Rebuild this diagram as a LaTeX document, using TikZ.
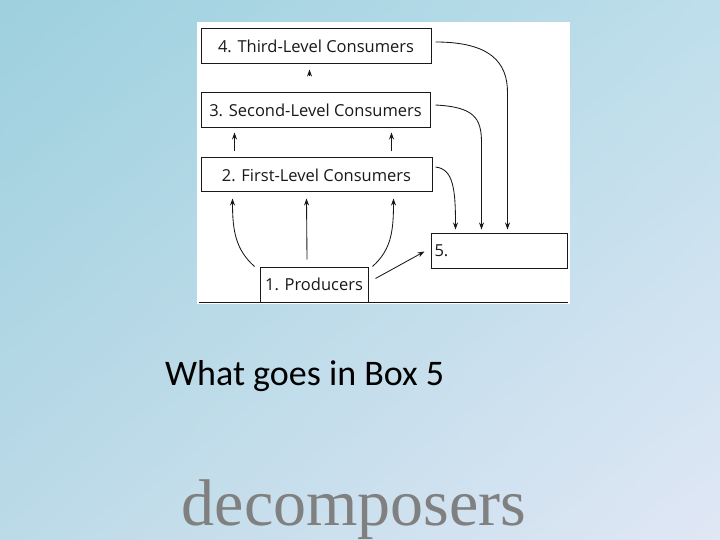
\documentclass[tikz,border=0pt]{standalone}
\usepackage{fontspec}
\setmainfont{Liberation Serif}
\newfontfamily\diafont{Open Sans}
\newfontfamily\calfont{Carlito}
\usetikzlibrary{calc,arrows.meta,shadings}
\definecolor{bgtl}{RGB}{157,208,222}
\definecolor{bgtr}{RGB}{190,222,235}
\definecolor{bgbl}{RGB}{188,218,232}
\definecolor{bgbr}{RGB}{224,231,245}
\definecolor{ink}{RGB}{25,25,25}
\definecolor{answer}{RGB}{128,128,128}
\tikzset{
  box/.style={draw=ink, line width=1pt, fill=white, inner sep=0pt, font=\diafont\fontsize{16.5}{18}\selectfont, text=ink},
  arr/.style={draw=ink, line width=0.85pt, -{Stealth[length=7pt,width=5pt]}},
}
\begin{document}
\begin{tikzpicture}[x=1pt,y=-1pt]
\shade[upper left=bgtl, upper right=bgtr, lower left=bgbl, lower right=bgbr] (0,0) rectangle (720,540);
\useasboundingbox (0,0) rectangle (720,540);
% white panel
\fill[white] (197,22) rectangle (570,304);
\draw[ink, line width=1pt] (199,302) -- (568,302);
% boxes
\node[box, minimum width=230pt, minimum height=35pt] (b4) at (316,46.5) {4. Third-Level Consumers};
\node[box, minimum width=229pt, minimum height=35pt] (b3) at (315.5,110.5) {3. Second-Level Consumers};
\node[box, minimum width=231pt, minimum height=34pt] (b2) at (316.5,175) {2. First-Level Consumers};
\node[box, minimum width=108pt, minimum height=35pt] (b1) at (314,284.5) {1. Producers};
\node[box, minimum width=136pt, minimum height=35pt, text width=129pt, align=left] (b5) at (499,250.5) {5.};
% arrows between levels
\draw[arr] ($(b4.south west)+(109,12)$) -- ($(b4.south west)+(109,5)$);
\draw[arr] ($(b2.north west)+(34,-6)$) -- ($(b3.south west)+(34,4)$);
\draw[arr] ($(b2.north west)+(191,-6)$) -- ($(b3.south west)+(191,4)$);
\draw[arr] ($(b1.north west)+(-5,0)$) .. controls +(-19,-17) and +(0,32) .. ($(b2.south west)+(32,6)$);
\draw[arr] ($(b1.north)+(-7,-7)$) -- ($(b2.south west)+(106,6)$);
\draw[arr] ($(b1.north east)+(4,0)$) .. controls +(19,-17) and +(0,32) .. ($(b2.south west)+(193,6)$);
% arrows to box 5
\draw[arr] ($(b1.east)+(7,-6)$) -- ($(b5.west)+(-6,1)$);
\draw[arr] ($(b2.east)+(3,-8)$) .. controls +(18,2) and +(0,-40) .. ($(b5.north west)+(25,-3)$);
\draw[arr] ($(b3.east)+(5,-5.5)$) .. controls +(38,2) and +(0,-25) .. ($(b5.north west)+(51,-90)$) -- ($(b5.north west)+(51,-3)$);
\draw[arr] ($(b4.east)+(4,-4.5)$) .. controls +(55,0) and +(0,-30) .. ($(b5.north west)+(77,-140)$) -- ($(b5.north west)+(77,-3)$);
% texts
\node[font=\calfont\fontsize{36}{40}\selectfont, text=black, anchor=base west, inner sep=0pt] (q) at (165,385) {What goes in Box 5};
\node[font=\fontsize{66}{70}\selectfont, text=answer, anchor=base, inner sep=0pt] (a) at (354,525) {decomposers};
\end{tikzpicture}
\end{document}
